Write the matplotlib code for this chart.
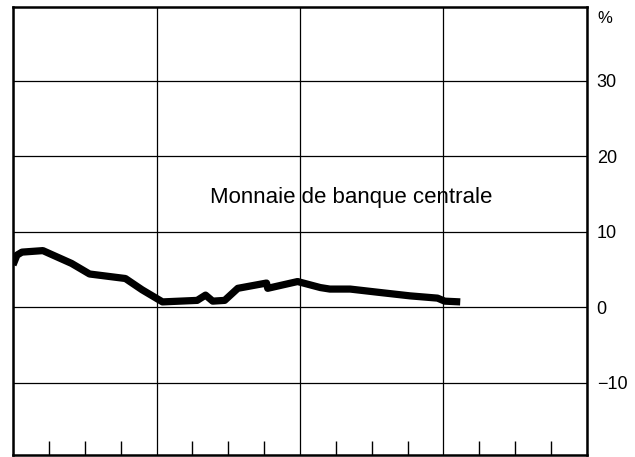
import matplotlib
matplotlib.use('Agg')
import matplotlib.pyplot as plt
from matplotlib.ticker import MultipleLocator

# months from start of period, value in %
months = [0, 0.33, 0.75, 2.5, 4.9, 6.4, 9.4, 10.8, 12.5, 15.4, 16.1, 16.7, 17.7,
          18.8, 21.2, 21.3, 23.8, 25.7, 26.5, 28.2, 30.4, 33.2, 35.5, 36.1, 37.4]
values = [5.6, 6.9, 7.3, 7.5, 5.8, 4.4, 3.8, 2.3, 0.7, 0.9, 1.6, 0.8, 0.9,
          2.5, 3.2, 2.5, 3.4, 2.6, 2.4, 2.4, 2.0, 1.5, 1.2, 0.8, 0.7]

y_ticks = [-10, 0, 10, 20, 30]
y_labels = ['\u221210', '0', '10', '20', '30']
series_label = 'Monnaie de banque centrale'

plt.rcParams['font.family'] = ['Liberation Sans', 'DejaVu Sans']

fig = plt.figure(figsize=(6.35, 4.57), dpi=100)
ax = fig.add_axes([13 / 635, 1 - 455 / 457, 574 / 635, 448 / 457])

ax.plot(months, values, color='black', lw=5.2, solid_capstyle='butt',
        solid_joinstyle='round')

ax.set_xlim(0, 48)
ax.set_ylim(-19.6, 39.8)

ax.xaxis.set_major_locator(MultipleLocator(12))
ax.xaxis.set_minor_locator(MultipleLocator(3))
ax.tick_params(axis='x', which='both', direction='in', length=10, width=1,
               labelbottom=False, top=False)
ax.tick_params(axis='x', which='major', length=0)
ax.grid(True, which='major', axis='x', color='black', lw=0.9)

ax.set_yticks(y_ticks)
ax.set_yticklabels(y_labels)
ax.yaxis.tick_right()
ax.tick_params(axis='y', length=0, pad=7, labelsize=13)
ax.grid(True, which='major', axis='y', color='black', lw=0.9)

for s in ax.spines.values():
    s.set_linewidth(1.8)

ax.text(1.018, 0.975, '%', transform=ax.transAxes, fontsize=12, va='center', ha='left')
ax.text(28.3, 14.5, series_label, fontsize=16, va='center', ha='center')

fig.savefig('out.png', dpi=100)
